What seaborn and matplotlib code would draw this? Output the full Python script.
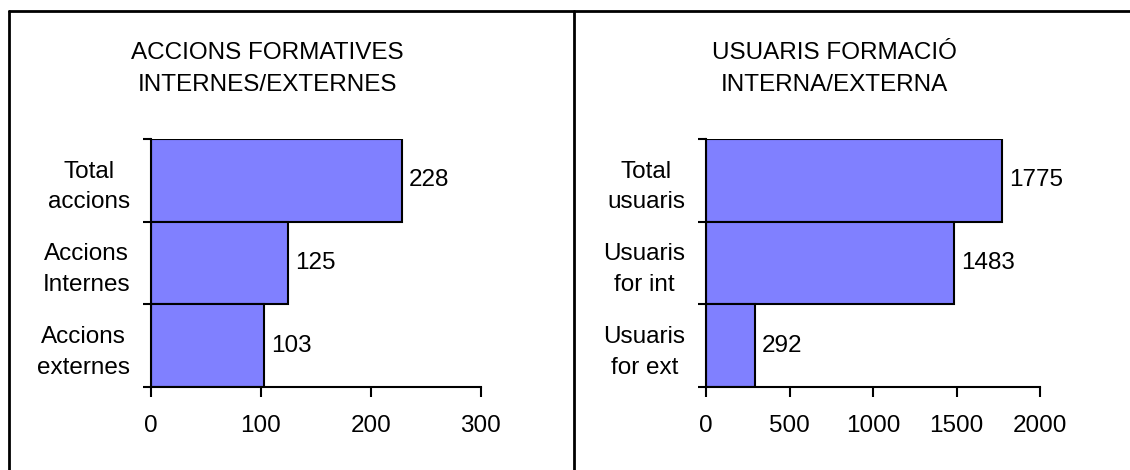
import matplotlib.pyplot as plt
import seaborn as sns
from matplotlib.lines import Line2D

# dades llegides del gràfic
acc_labels = ['Total\naccions', 'Accions\nInternes', 'Accions\nexternes']
acc_values = [228, 125, 103]
usu_labels = ['Total\nusuaris', 'Usuaris\nfor int', 'Usuaris\nfor ext']
usu_values = [1775, 1483, 292]

titol_acc = 'ACCIONS FORMATIVES\nINTERNES/EXTERNES'
titol_usu = 'USUARIS FORMACIÓ\nINTERNA/EXTERNA'
ticks_acc = [0, 100, 200, 300]
ticks_usu = [0, 500, 1000, 1500, 2000]

sns.set_theme(style='ticks')
plt.rcParams['font.family'] = ['Liberation Sans', 'DejaVu Sans']
plt.rcParams['text.color'] = 'black'
plt.rcParams['xtick.color'] = 'black'
plt.rcParams['ytick.color'] = 'black'
FS = 17.5

fig = plt.figure(figsize=(11.3, 4.7), dpi=100)


def panell(rect, labels, values, ticks, title, title_x):
    ax = fig.add_axes(rect)
    sns.barplot(x=values, y=labels, orient='h', color='#8080FF', saturation=1,
                edgecolor='black', linewidth=1.5, width=1, ax=ax)
    ax.set_ylim(2.5, -0.5)
    ax.set_xlim(ticks[0], ticks[-1])
    ax.set_xticks(ticks)
    ax.set_xticklabels([str(t) for t in ticks], fontsize=FS)
    # ticks a les vores de les categories, etiquetes al centre
    ax.set_yticks([-0.5, 0.5, 1.5, 2.5])
    ax.set_yticklabels([])
    ax.set_yticks([0, 1, 2], labels, minor=True)
    for t in ax.get_yticklabels(minor=True):
        t.set_multialignment('center')
        t.set_fontsize(FS)
        t.set_linespacing(1.5)
    ax.tick_params(axis='y', which='major', length=6, width=1.5)
    ax.tick_params(axis='y', which='minor', length=0, pad=15)
    ax.tick_params(axis='x', length=7, width=1.5, pad=13)
    ax.set_xlabel('')
    ax.set_ylabel('')
    sns.despine(ax=ax)
    for s in ['left', 'bottom']:
        ax.spines[s].set_linewidth(1.5)
        ax.spines[s].set_color('black')
    ax.bar_label(ax.containers[0], fmt='%d', padding=5, fontsize=FS)
    fig.text(title_x, 0.853, title, ha='center', va='center', fontsize=FS,
             linespacing=1.55)
    return ax


panell([0.1336, 0.1766, 0.292, 0.5277], acc_labels, acc_values, ticks_acc,
       titol_acc, 0.237)
panell([0.6248, 0.1766, 0.2956, 0.5277], usu_labels, usu_values, ticks_usu,
       titol_usu, 0.738)

# marc exterior
fig.add_artist(Line2D([0.008, 1.0], [0.977, 0.977], color='black', lw=2))
fig.add_artist(Line2D([0.008, 0.008], [0.0, 0.977], color='black', lw=2))
fig.add_artist(Line2D([0.508, 0.508], [0.0, 0.977], color='black', lw=2))

fig.savefig('out.png', dpi=100)
